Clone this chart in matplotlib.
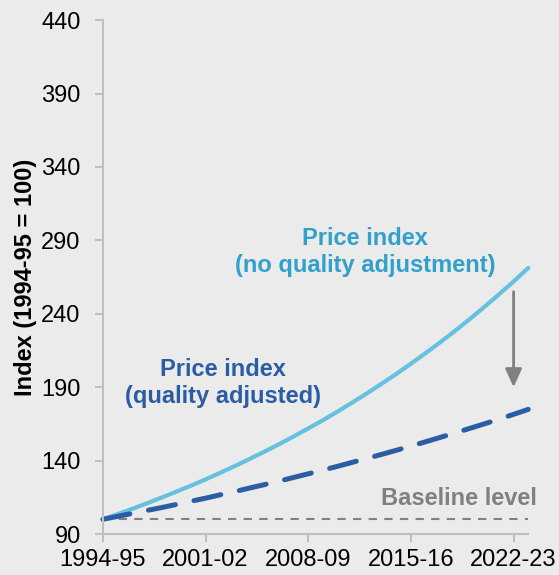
import numpy as np
import matplotlib.pyplot as plt

plt.rcParams['font.family'] = ['Liberation Sans', 'DejaVu Sans']

# years from 1994-95 (index 0) to 2023-24 (index 29)
years = np.arange(30)
tick_pos = [0, 7, 14, 21, 28]
tick_labels = ['1994-95', '2001-02', '2008-09', '2015-16', '2022-23']

# price index, no quality adjustment
no_quality = [100, 103.5, 107.1, 110.9, 114.8, 118.8, 122.9, 127.2, 131.7, 136.3,
              141.1, 146.0, 151.1, 156.4, 161.9, 167.5, 173.4, 179.5, 185.8, 192.3,
              199.0, 206.0, 213.2, 220.6, 228.3, 236.3, 244.6, 253.2, 262.0, 271.2]
# price index, quality adjusted
quality_adj = [100, 102.0, 104.0, 106.0, 108.0, 110.1, 112.3, 114.4, 116.7, 118.9,
               121.3, 123.6, 126.0, 128.5, 131.0, 133.5, 136.1, 138.8, 141.5, 144.2,
               147.0, 149.9, 152.8, 155.8, 158.8, 161.9, 165.0, 168.2, 171.5, 174.9]
baseline = 100

bg = '#EBEBEB'
light = '#66C1E0'
light_txt = '#31A0CB'
dark = '#2B5DA5'
grey = '#808080'

fig = plt.figure(figsize=(5.59, 5.75), dpi=100, facecolor=bg)
ax = fig.add_axes([0.184, 0.0713, 0.761, 0.8937])
ax.set_facecolor(bg)

ax.plot([0, 29], [baseline, baseline], color=grey, lw=1.5, ls=(0, (4, 3.5)), clip_on=False)
ax.plot(years, no_quality, color=light, lw=3, solid_capstyle='round', clip_on=False)
ax.plot(years, quality_adj, color=dark, lw=3.6, ls=(0, (5.5, 3.8)),
        dash_capstyle='round', clip_on=False)

# arrow showing the quality adjustment
ax.annotate('', xy=(28, 190), xytext=(28, 255),
            arrowprops=dict(arrowstyle='-|>,head_width=0.5,head_length=1.1',
                            color=grey, lw=2, shrinkA=0, shrinkB=0))

ax.text(17.9, 282, 'Price index\n(no quality adjustment)', color=light_txt,
        fontsize=17, fontweight='bold', ha='center', va='center', linespacing=1.2)
ax.text(8.2, 193, 'Price index\n(quality adjusted)', color=dark,
        fontsize=17, fontweight='bold', ha='center', va='center', linespacing=1.2)
ax.text(29.6, 114.5, 'Baseline level', color=grey, fontsize=17,
        fontweight='bold', ha='right', va='center', clip_on=False)

ax.set_xlim(0, 29)
ax.set_ylim(90, 440)
ax.set_yticks(np.arange(90, 441, 50))
ax.set_xticks(tick_pos)
ax.set_xticklabels(tick_labels)
ax.tick_params(labelsize=17, color='#BFBFBF', width=1.5, length=6, direction='out')
ax.tick_params(axis='y', pad=10)
ax.tick_params(axis='x', pad=5)

for s in ['top', 'right']:
    ax.spines[s].set_visible(False)
for s in ['left', 'bottom']:
    ax.spines[s].set_color('#BFBFBF')
    ax.spines[s].set_linewidth(1.5)

ax.set_ylabel('Index (1994-95 = 100)', fontsize=17, fontweight='bold', labelpad=3)

fig.savefig('out.png', dpi=100, facecolor=bg)
